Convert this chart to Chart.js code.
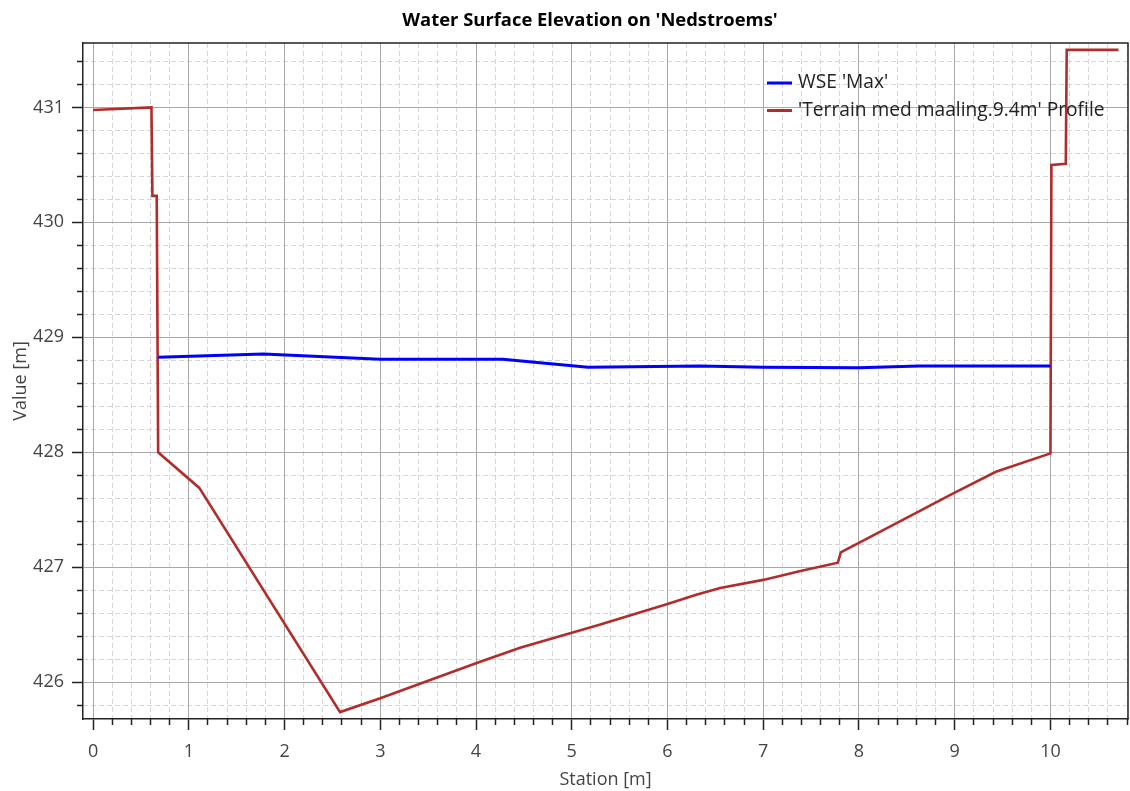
<!DOCTYPE html>
<html>
<head>
<meta charset="utf-8">
<title>Water Surface Elevation on 'Nedstroems'</title>
<script src="https://cdn.jsdelivr.net/npm/chart.js@4.4.1/dist/chart.umd.min.js"></script>
<style>
  html, body { margin: 0; padding: 0; background: #fff; }
  #wrap { width: 1130px; height: 791px; }
</style>
</head>
<body>
<div id="wrap"><canvas id="wseChart" width="1130" height="791"></canvas></div>
<script>
/* profil-data (station i m, kote i m) */
var wseStation = [0.68, 1.78, 3.0, 4.28, 5.17, 6.34, 7.0, 8.0, 8.63, 10.0];
var wseValue   = [428.826, 428.855, 428.81, 428.81, 428.74, 428.75, 428.74, 428.735, 428.75, 428.75];

var terrainStation = [0.0, 0.61, 0.62, 0.665, 0.68, 1.11, 2.58, 3.0, 4.0, 4.46, 5.0, 5.29, 6.0, 6.3, 6.55, 7.0, 7.4, 7.78, 7.81, 8.98, 9.43, 10.0, 10.01, 10.16, 10.17, 10.71];
var terrainValue   = [430.977, 431.0, 430.23, 430.23, 428.0, 427.69, 425.74, 425.86, 426.165, 426.30, 426.43, 426.50, 426.68, 426.76, 426.82, 426.89, 426.97, 427.04, 427.13, 427.64, 427.83, 427.99, 430.5, 430.51, 431.5, 431.5];

/* akser */
var xMin = -0.105, xMax = 10.81;
var yMin = 425.68, yMax = 431.56;
var xMajorTicks = [0, 1, 2, 3, 4, 5, 6, 7, 8, 9, 10];
var xMinorTicks = [0.2, 0.4, 0.6, 0.8, 1.2, 1.4, 1.6, 1.8, 2.2, 2.4, 2.6, 2.8, 3.2, 3.4, 3.6, 3.8,
                   4.2, 4.4, 4.6, 4.8, 5.2, 5.4, 5.6, 5.8, 6.2, 6.4, 6.6, 6.8, 7.2, 7.4, 7.6, 7.8,
                   8.2, 8.4, 8.6, 8.8, 9.2, 9.4, 9.6, 9.8, 10.2, 10.4, 10.6, 10.8];
var yMajorTicks = [426, 427, 428, 429, 430, 431];
var yMinorTicks = [425.8, 426.2, 426.4, 426.6, 426.8, 427.2, 427.4, 427.6, 427.8, 428.2, 428.4, 428.6, 428.8,
                   429.2, 429.4, 429.6, 429.8, 430.2, 430.4, 430.6, 430.8, 431.2, 431.4];

var chartTitle = "Water Surface Elevation on 'Nedstroems'";
var xTitle = "Station [m]";
var yTitle = "Value [m]";

var fontFamily = "'Open Sans', 'Noto Sans', sans-serif";

function toPoints(xs, ys) {
  var pts = [];
  for (var i = 0; i < xs.length; i++) {
    pts.push({ x: xs[i], y: ys[i] });
  }
  return pts;
}

function fastTicks(list) {
  return function (scale) {
    scale.ticks = list.map(function (v) { return { value: v }; });
  };
}

/* ramme, titel og forklaring tegnes oven paa grafen */
var ekstraTegning = {
  id: 'ekstraTegning',
  afterDraw: function (chart) {
    var ctx = chart.ctx;
    var a = chart.chartArea;
    ctx.save();

    // ramme (top + hoejre)
    ctx.strokeStyle = '#222';
    ctx.lineWidth = 1.5;
    ctx.beginPath();
    ctx.moveTo(a.left, a.top);
    ctx.lineTo(a.right, a.top);
    ctx.lineTo(a.right, a.bottom);
    ctx.stroke();

    // titel
    ctx.fillStyle = '#000';
    ctx.font = "bold 18.4px " + fontFamily;
    ctx.textAlign = 'center';
    ctx.textBaseline = 'middle';
    ctx.fillText(chartTitle, 590, 21);

    // forklaring
    ctx.font = "19.2px " + fontFamily;
    ctx.textAlign = 'left';
    var lx = 767, ly = 83;
    chart.data.datasets.forEach(function (ds, i) {
      var y = ly + i * 27.5;
      ctx.strokeStyle = ds.borderColor;
      ctx.lineWidth = 3;
      ctx.beginPath();
      ctx.moveTo(lx, y);
      ctx.lineTo(lx + 25, y);
      ctx.stroke();
      ctx.fillStyle = '#222';
      ctx.fillText(ds.label, lx + 31, y);
    });
    ctx.restore();
  }
};

var ctx = document.getElementById("wseChart");
var wseChart = new Chart(ctx, {
  type: 'line',
  data: {
    datasets: [{
      label: "WSE 'Max'",
      data: toPoints(wseStation, wseValue),
      borderColor: '#0000ff',
      borderWidth: 3,
      pointRadius: 0,
      tension: 0,
      xAxisID: 'x',
      yAxisID: 'y'
    }, {
      label: "'Terrain med maaling.9.4m' Profile",
      data: toPoints(terrainStation, terrainValue),
      borderColor: '#b22c2c',
      borderWidth: 2.6,
      pointRadius: 0,
      tension: 0,
      xAxisID: 'x',
      yAxisID: 'y'
    }]
  },
  options: {
    responsive: false,
    animation: false,
    layout: { padding: { top: 43, right: 2, left: 0, bottom: 0 } },
    plugins: {
      legend: { display: false },
      title: { display: false },
      tooltip: { enabled: false }
    },
    scales: {
      // hjaelpelinjer (stiplede) hver 0.2
      xMinor: {
        axis: 'x',
        type: 'linear',
        position: { y: yMin },
        min: xMin, max: xMax,
        afterBuildTicks: fastTicks(xMinorTicks),
        grid: { color: '#d6d6d6', lineWidth: 1, tickLength: 6, tickColor: '#222', tickWidth: 1.5, tickBorderDash: [] },
        border: { display: false, dash: [5, 3] },
        ticks: { display: false }
      },
      yMinor: {
        axis: 'y',
        type: 'linear',
        position: { x: xMin },
        min: yMin, max: yMax,
        afterBuildTicks: fastTicks(yMinorTicks),
        grid: { color: '#d6d6d6', lineWidth: 1, tickLength: 6, tickColor: '#222', tickWidth: 1.5, tickBorderDash: [] },
        border: { display: false, dash: [5, 3] },
        ticks: { display: false }
      },
      x: {
        type: 'linear',
        position: 'bottom',
        min: xMin, max: xMax,
        afterBuildTicks: fastTicks(xMajorTicks),
        afterFit: function (scale) { scale.height = 72; },
        grid: { color: '#a8a8a8', lineWidth: 1, tickLength: 11, tickColor: '#222', tickWidth: 1.5 },
        border: { display: true, color: '#222', width: 1.5 },
        ticks: {
          color: '#444',
          font: { family: fontFamily, size: 18 },
          padding: 11,
          maxRotation: 0,
          autoSkip: false,
          callback: function (v) { return String(v); }
        },
        title: {
          display: true,
          text: xTitle,
          color: '#444',
          font: { family: fontFamily, size: 18, lineHeight: 1.2 },
          padding: { top: 0, bottom: 0 }
        }
      },
      y: {
        type: 'linear',
        position: 'left',
        min: yMin, max: yMax,
        afterBuildTicks: fastTicks(yMajorTicks),
        afterFit: function (scale) { scale.width = 83; },
        grid: { color: '#a8a8a8', lineWidth: 1, tickLength: 11, tickColor: '#222', tickWidth: 1.5 },
        border: { display: true, color: '#222', width: 1.5 },
        ticks: {
          color: '#444',
          font: { family: fontFamily, size: 18 },
          padding: 8,
          autoSkip: false,
          callback: function (v) { return String(v); }
        },
        title: {
          display: true,
          text: yTitle,
          color: '#444',
          font: { family: fontFamily, size: 18, lineHeight: 1.2 },
          padding: { top: 10, bottom: 0 }
        }
      }
    }
  },
  plugins: [ekstraTegning]
});
</script>
</body>
</html>
